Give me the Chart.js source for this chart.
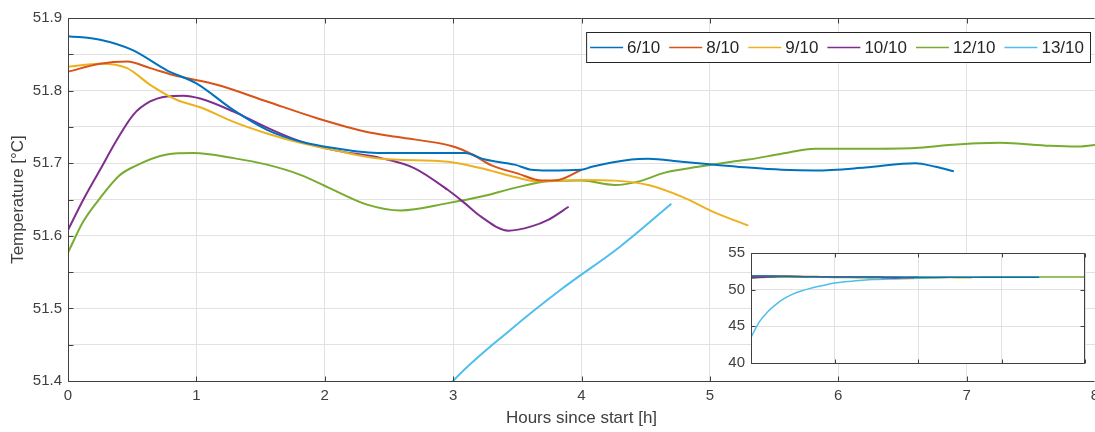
<!DOCTYPE html>
<html>
<head>
<meta charset="utf-8">
<script src="https://cdn.jsdelivr.net/npm/chart.js@4.4.1/dist/chart.umd.min.js"></script>
<style>
  html, body { margin: 0; padding: 0; background: #fff; }
  #wrap { position: relative; width: 1095px; height: 432px; }
  #main { position: absolute; left: 0; top: 0; }
  #inset { position: absolute; left: 700px; top: 240px; }
</style>
</head>
<body>
<div id="wrap">
  <canvas id="main" width="1095" height="432"></canvas>
  <canvas id="inset" width="395" height="135"></canvas>
</div>
<script>
// series labels and colours (MATLAB default order)
const labels = ["6/10", "8/10", "9/10", "10/10", "12/10", "13/10"];
const colors = ["#0072BD", "#D95319", "#EDB120", "#7E2F8E", "#77AC30", "#4DBEEE"];

// hours since start / temperature
const h6 = [0, 0.25, 0.5, 0.77, 1.0, 1.29, 1.55, 1.81, 2.07, 2.44, 3.09, 3.25, 3.48, 3.61, 3.74, 4.0, 4.08, 4.39, 4.52, 4.78, 5.04, 5.3, 5.56, 5.82, 6.21, 6.6, 6.76, 6.9];
const t6 = [51.875, 51.870, 51.856, 51.828, 51.810, 51.773, 51.746, 51.730, 51.721, 51.714, 51.714, 51.705, 51.698, 51.691, 51.690, 51.691, 51.695, 51.705, 51.706, 51.702, 51.698, 51.694, 51.691, 51.690, 51.694, 51.700, 51.695, 51.689];

const h8 = [0, 0.25, 0.46, 0.64, 0.85, 1.16, 1.55, 1.94, 2.33, 2.57, 3.0, 3.15, 3.3, 3.5, 3.69, 3.82, 4.0];
const t8 = [51.826, 51.837, 51.840, 51.831, 51.820, 51.808, 51.785, 51.762, 51.743, 51.736, 51.723, 51.712, 51.697, 51.686, 51.676, 51.677, 51.691];

const h9 = [0, 0.25, 0.46, 0.64, 0.85, 1.03, 1.29, 1.55, 1.81, 2.07, 2.44, 2.96, 3.22, 3.48, 3.66, 4.0, 4.26, 4.52, 4.78, 5.04, 5.3];
const t9 = [51.833, 51.837, 51.831, 51.808, 51.787, 51.777, 51.757, 51.741, 51.728, 51.718, 51.706, 51.702, 51.693, 51.681, 51.675, 51.677, 51.676, 51.670, 51.654, 51.632, 51.614];

const h10 = [0, 0.12, 0.25, 0.38, 0.51, 0.64, 0.77, 0.9, 1.03, 1.29, 1.55, 1.81, 2.07, 2.44, 2.7, 2.96, 3.09, 3.22, 3.43, 3.61, 3.74, 3.9];
const t10 = [51.608, 51.650, 51.691, 51.732, 51.767, 51.785, 51.792, 51.793, 51.789, 51.771, 51.749, 51.730, 51.718, 51.707, 51.693, 51.663, 51.645, 51.626, 51.607, 51.613, 51.622, 51.640];

const h12 = [0, 0.12, 0.25, 0.4, 0.51, 0.77, 0.98, 1.29, 1.55, 1.81, 2.07, 2.33, 2.59, 2.96, 3.22, 3.48, 3.74, 4.0, 4.26, 4.45, 4.65, 4.91, 5.17, 5.3, 5.56, 5.82, 6.21, 6.6, 6.86, 7.26, 7.65, 7.85, 8.0];
const t12 = [51.577, 51.620, 51.652, 51.683, 51.695, 51.712, 51.714, 51.707, 51.698, 51.684, 51.663, 51.643, 51.635, 51.645, 51.654, 51.666, 51.675, 51.676, 51.670, 51.675, 51.687, 51.695, 51.702, 51.705, 51.713, 51.720, 51.720, 51.721, 51.725, 51.728, 51.724, 51.723, 51.725];

const h13 = [0, 0.2, 0.4, 0.6, 0.8, 1.0, 1.25, 1.5, 1.75, 2.0, 2.25, 2.5, 2.75, 2.9, 3.0, 3.45, 3.84, 4.3, 4.7];
const t13 = [43.5, 45.6, 47.0, 48.0, 48.8, 49.4, 49.9, 50.3, 50.6, 50.9, 51.08, 51.2, 51.32, 51.378, 51.40, 51.471, 51.526, 51.585, 51.644];

const hours = [h6, h8, h9, h10, h12, h13];
const temps = [t6, t8, t9, t10, t12, t13];

// axis ranges / ticks
const xTicks = [0, 1, 2, 3, 4, 5, 6, 7, 8];
const yMin = 51.4, yMax = 51.9, yStep = 0.05;
const insetYTicks = [40, 45, 50, 55];
const insetXStep = 2;

const FONT = "'Liberation Sans', Arial, sans-serif";
const AXIS = "#404040";
const GRID = "#e2e2e2";

function makeDatasets(width) {
  return labels.map((lab, i) => ({
    label: lab,
    data: hours[i].map((x, k) => ({ x: x, y: temps[i][k] })),
    borderColor: colors[i],
    backgroundColor: colors[i],
    borderWidth: width,
    pointRadius: 0,
    fill: false,
    cubicInterpolationMode: "monotone"
  }));
}

// MATLAB-like box with inward ticks
function frame(len, legend, rightSide) {
  return {
    id: "frame",
    beforeDraw(chart, args, opts) {
      if (!opts.fillArea) return;
      const a = chart.chartArea, c = chart.ctx;
      c.save();
      c.fillStyle = "#fff";
      c.fillRect(a.left, a.top, a.right - a.left, a.bottom - a.top);
      c.restore();
    },
    afterDraw(chart) {
      const a = chart.chartArea, c = chart.ctx;
      const xs = chart.scales.x, ys = chart.scales.y;
      const L = Math.round(a.left) + 0.5, T = Math.round(a.top) + 0.5;
      const R = Math.round(a.right) - 0.5, B = Math.round(a.bottom) + 0.5;
      c.save();
      c.strokeStyle = AXIS;
      c.lineWidth = 1;
      c.beginPath();
      c.moveTo(R, T); c.lineTo(L, T); c.lineTo(L, B); c.lineTo(R, B);
      if (rightSide) c.lineTo(R, T);
      xs.ticks.forEach(t => {
        const px = Math.round(xs.getPixelForValue(t.value)) + 0.5;
        c.moveTo(px, B); c.lineTo(px, B - len);
        c.moveTo(px, T); c.lineTo(px, T + len);
      });
      ys.ticks.forEach(t => {
        const py = Math.round(ys.getPixelForValue(t.value)) + 0.5;
        c.moveTo(L, py); c.lineTo(L + len, py);
        if (rightSide) { c.moveTo(R, py); c.lineTo(R - len, py); }
      });
      c.stroke();

      if (legend) {
        c.font = "17px " + FONT;
        c.textBaseline = "middle";
        const lineLen = 33, gap = 4, after = 9, pad = 4;
        const ws = labels.map(l => c.measureText(l).width);
        let total = pad;
        ws.forEach(w => { total += lineLen + gap + w + after; });
        total = total - after + pad + 2;
        const bx = 1090 - total, by = 32, bh = 30;
        c.fillStyle = "#fff";
        c.fillRect(bx, by, total, bh);
        c.strokeStyle = "#262626";
        c.strokeRect(bx + 0.5, by + 0.5, total, bh);
        let x = bx + pad;
        const cy = by + bh / 2 + 0.5;
        labels.forEach((l, i) => {
          c.strokeStyle = colors[i];
          c.lineWidth = 1.5;
          c.beginPath(); c.moveTo(x, cy); c.lineTo(x + lineLen, cy); c.stroke();
          x += lineLen + gap;
          c.fillStyle = "#262626";
          c.fillText(l, x, cy + 1);
          x += ws[i] + after;
        });
      }
      c.restore();
    }
  };
}

new Chart(document.getElementById("main"), {
  type: "line",
  data: { datasets: makeDatasets(2) },
  plugins: [frame(5, true, false)],
  options: {
    responsive: false,
    animation: false,
    devicePixelRatio: 1,
    layout: { padding: { top: 18, right: 0, left: 0, bottom: 0 } },
    plugins: { legend: { display: false }, tooltip: { enabled: false }, frame: {} },
    scales: {
      x: {
        type: "linear", min: 0, max: 8,
        afterBuildTicks: s => { s.ticks = xTicks.map(v => ({ value: v })); },
        afterFit: s => { s.height = 51; s.paddingLeft = 0; s.paddingRight = 0; },
        grid: { color: GRID, drawTicks: false },
        border: { display: false },
        ticks: { padding: 6, color: AXIS, font: { family: FONT, size: 15 }, maxRotation: 0 },
        title: { display: true, text: "Hours since start [h]", color: AXIS, padding: { top: 0, bottom: 3 }, font: { family: FONT, size: 17 } }
      },
      y: {
        type: "linear", min: yMin, max: yMax,
        ticks: {
          stepSize: yStep, padding: 6, color: AXIS, font: { family: FONT, size: 15 },
          callback: v => (Math.round(v * 100) % 10 === 0 ? v.toFixed(1) : "")
        },
        afterFit: s => { s.width = 68; s.paddingTop = 0; s.paddingBottom = 0; },
        grid: { color: GRID, drawTicks: false },
        border: { display: false },
        title: { display: true, text: "Temperature [°C]", color: AXIS, padding: { top: 8, bottom: 0 }, font: { family: FONT, size: 17 } }
      }
    }
  }
});

new Chart(document.getElementById("inset"), {
  type: "line",
  data: { datasets: makeDatasets(1.5) },
  plugins: [frame(4, false, true)],
  options: {
    responsive: false,
    animation: false,
    devicePixelRatio: 1,
    layout: { padding: { top: 13, right: 10, left: 0, bottom: 0 } },
    plugins: { legend: { display: false }, tooltip: { enabled: false }, frame: { fillArea: true } },
    scales: {
      x: {
        type: "linear", min: 0, max: 8,
        ticks: { stepSize: insetXStep, display: false },
        afterFit: s => { s.height = 12; s.paddingLeft = 0; s.paddingRight = 0; },
        grid: { color: GRID, drawTicks: false },
        border: { display: false }
      },
      y: {
        type: "linear", min: insetYTicks[0], max: insetYTicks[insetYTicks.length - 1],
        afterBuildTicks: s => { s.ticks = insetYTicks.map(v => ({ value: v })); },
        ticks: { padding: 6, color: AXIS, font: { family: FONT, size: 15 } },
        afterFit: s => { s.width = 51; s.paddingTop = 0; s.paddingBottom = 0; },
        grid: { color: GRID, drawTicks: false },
        border: { display: false }
      }
    }
  }
});
</script>
</body>
</html>
